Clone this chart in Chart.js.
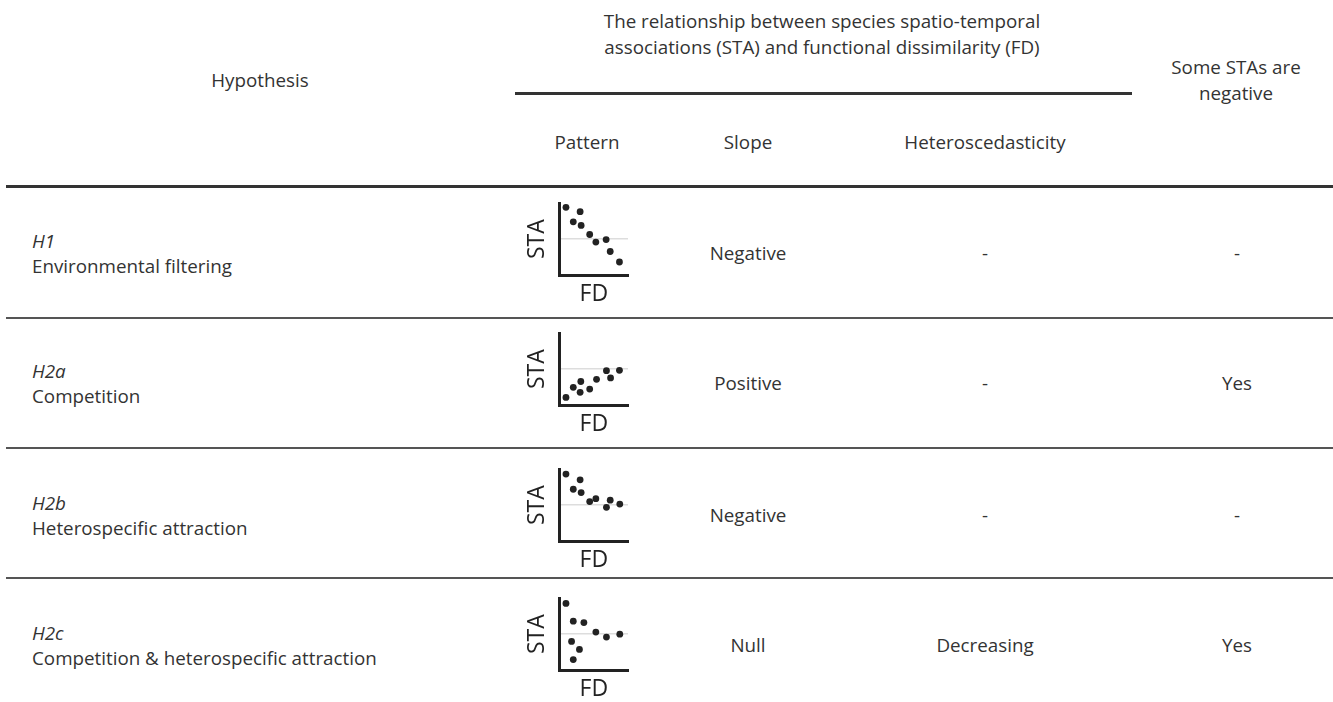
<!DOCTYPE html>
<html>
<head>
<meta charset="utf-8">
<script src="https://cdn.jsdelivr.net/npm/chart.js@4.4.0/dist/chart.umd.min.js"></script>
<style>
  body { margin: 0; background: #fff; }
  #table { position: relative; width: 1333px; height: 702px; overflow: hidden;
           font-family: "Open Sans", Lato, sans-serif; font-size: 18.8px; color: #333; }
  .c { position: absolute; white-space: nowrap; transform: translate(-50%, -50%); text-align: center; line-height: 26px; }
  .l { position: absolute; white-space: nowrap; transform: translateY(-50%); line-height: 26px; }
  .rule { position: absolute; }
  canvas.mini { position: absolute; }
</style>
</head>
<body>
<div id="table"></div>
<script>
// table content
const hypCodes = ["H1", "H2a", "H2b", "H2c"];
const hypNames = ["Environmental filtering", "Competition", "Heterospecific attraction", "Competition & heterospecific attraction"];
const slopes = ["Negative", "Positive", "Negative", "Null"];
const heteroscedasticity = ["-", "-", "-", "Decreasing"];
const someNegative = ["-", "Yes", "-", "Yes"];

// pattern sketches: FD (x) vs STA (y), zero line at STA = 0
const fdH1 = [0.93, 3.0, 2.0, 3.15, 4.4, 5.3, 6.8, 7.4, 8.75];
const staH1 = [4.4, 3.8, 2.4, 1.9, 0.65, -0.4, -0.05, -1.7, -3.15];
const fdH2a = [0.93, 2.0, 3.1, 3.0, 4.4, 5.4, 6.85, 7.45, 8.75];
const staH2a = [-3.9, -2.5, -1.7, -3.2, -2.75, -1.4, -0.2, -1.2, -0.15];
const fdH2b = [0.93, 3.0, 2.0, 3.15, 4.4, 5.3, 6.85, 7.4, 8.8];
const staH2b = [4.3, 3.5, 2.2, 1.75, 0.5, 0.9, -0.3, 0.7, 0.15];
const fdH2c = [0.93, 2.0, 3.55, 5.3, 6.85, 8.8, 1.75, 2.9, 2.0];
const staH2c = [4.25, 1.8, 1.6, 0.3, -0.4, 0, -1.0, -2.1, -3.5];

const patterns = [[fdH1, staH1], [fdH2a, staH2a], [fdH2b, staH2b], [fdH2c, staH2c]];

// layout
const rowMid = [253, 383, 515, 645];
const plotTop = [203, 333, 469, 598];
const rowLines = [318, 448, 578];

const table = document.getElementById("table");

function addText(text, x, y, cls, extra) {
    const el = document.createElement("div");
    el.className = cls;
    el.innerHTML = text;
    el.style.left = x + "px";
    el.style.top = y + "px";
    if (extra) Object.assign(el.style, extra);
    table.appendChild(el);
}

function addRule(x1, x2, y, w, color) {
    const el = document.createElement("div");
    el.className = "rule";
    el.style.left = x1 + "px";
    el.style.width = (x2 - x1) + "px";
    el.style.top = (y - w / 2) + "px";
    el.style.height = w + "px";
    el.style.background = color;
    table.appendChild(el);
}

// header
addText("Hypothesis", 260, 80, "c");
addText("The relationship between species spatio-temporal<br>associations (STA) and functional dissimilarity (FD)", 822, 34, "c");
addText("Some STAs are<br>negative", 1236, 80, "c");
addText("Pattern", 587, 142, "c");
addText("Slope", 748, 142, "c");
addText("Heteroscedasticity", 985, 142, "c");
addRule(515, 1132, 93, 3, "#333");
addRule(6, 1333, 186, 3, "#333");
rowLines.forEach(y => addRule(6, 1333, y, 2, "#555"));

// rows
hypCodes.forEach((code, i) => {
    addText(code, 32, rowMid[i] - 12, "l", { fontStyle: "italic" });
    addText(hypNames[i], 32, rowMid[i] + 13, "l");
    addText(slopes[i], 748, rowMid[i], "c");
    addText(heteroscedasticity[i], 985, rowMid[i], "c");
    addText(someNegative[i], 1237, rowMid[i], "c");
    drawPattern(i);
});

function drawPattern(i) {
    const canvas = document.createElement("canvas");
    canvas.className = "mini";
    canvas.width = 112;
    canvas.height = 115;
    canvas.style.left = "520px";
    canvas.style.top = (plotTop[i] - 6) + "px";
    table.appendChild(canvas);

    const [xs, ys] = patterns[i];
    const titleFont = { family: "'Open Sans', Lato, sans-serif", size: 23 };

    new Chart(canvas, {
        type: "scatter",
        data: {
            datasets: [{
                data: xs.map((x, k) => ({ x: x, y: ys[k] })),
                pointRadius: 3.4,
                pointBackgroundColor: "#222",
                pointBorderWidth: 0,
                clip: false
            }]
        },
        options: {
            responsive: false,
            animation: false,
            events: [],
            layout: { padding: { top: 6, right: 0, bottom: 0, left: 0 } },
            plugins: { legend: { display: false }, tooltip: { enabled: false } },
            scales: {
                x: {
                    min: 0, max: 10,
                    ticks: { display: false },
                    grid: { display: false, drawTicks: false },
                    border: { color: "#222", width: 3 },
                    title: { display: true, text: "FD", font: titleFont, color: "#222", padding: { top: 5, bottom: 4 } }
                },
                y: {
                    min: -5, max: 5,
                    ticks: { display: false, stepSize: 5 },
                    grid: {
                        drawTicks: false,
                        lineWidth: 1.5,
                        color: c => c.tick && c.tick.value === 0 ? "#dddddd" : "rgba(0,0,0,0)"
                    },
                    border: { color: "#222", width: 3 },
                    title: { display: true, text: "STA", font: titleFont, color: "#222", padding: { top: 4, bottom: 8 } }
                }
            }
        }
    });
}
</script>
</body>
</html>
